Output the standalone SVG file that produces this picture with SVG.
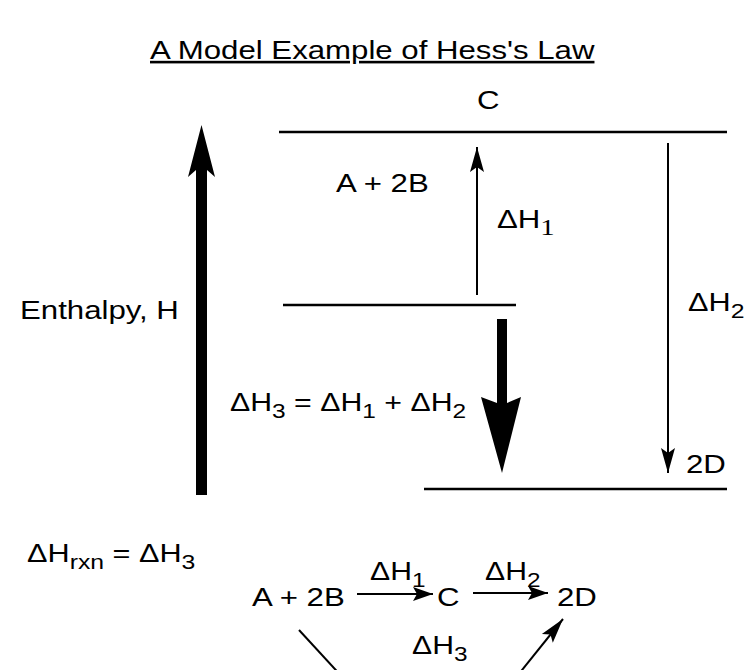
<svg xmlns="http://www.w3.org/2000/svg" width="746" height="670" viewBox="0 0 746 670">
<defs>
<style>
.t{font-family:"Liberation Sans",Arial,Helvetica,sans-serif;font-size:26px;fill:#000}
.sb{font-size:21px}
.sf{font-family:"Liberation Serif","Times New Roman",serif;font-size:24px}
.lvl{stroke:#000;stroke-width:2.5;fill:none}
.thin{stroke:#000;stroke-width:2;fill:none}
.solid{fill:#000;stroke:none}
</style>
<marker id="ah" viewBox="-26 -8 28 16" refX="0" refY="0" markerWidth="28" markerHeight="16" markerUnits="userSpaceOnUse" orient="auto">
<path d="M0,0 L-25,-7 L-20,0 L-25,7 Z" fill="#000"/>
</marker>
<marker id="ahs" viewBox="-22 -8 24 16" refX="0" refY="0" markerWidth="24" markerHeight="16" markerUnits="userSpaceOnUse" orient="auto">
<path d="M0,0 L-20,-7 L-16,0 L-20,7 Z" fill="#000"/>
</marker>
</defs>
<rect width="746" height="670" fill="#fff"/>

<g id="title">
<text class="t" transform="translate(150,59) scale(1.2,1)" text-decoration="underline">A Model Example of Hess's Law</text>
</g>

<g id="level-C">
<line class="lvl" x1="279" y1="132" x2="727" y2="132"/>
<text class="t" transform="translate(477,109) scale(1.2,1)">C</text>
</g>

<g id="level-AB">
<line class="lvl" x1="283" y1="305" x2="516" y2="305"/>
<text class="t" transform="translate(336,192) scale(1.2,1)">A + 2B</text>
</g>

<g id="level-2D">
<line class="lvl" x1="424" y1="489" x2="727" y2="489"/>
<text class="t" transform="translate(686,473) scale(1.2,1)">2D</text>
</g>

<g id="enthalpy-axis">
<path class="solid" d="M201.5,125 L215,177 L207,170 L207,495 L196,495 L196,170 L188,177 Z"/>
<text class="t" transform="translate(20,319) scale(1.2,1)">Enthalpy, H</text>
</g>

<g id="label-dH1">
<text class="t" transform="translate(497,228) scale(1.2,1)">ΔH<tspan class="sf" dy="7">1</tspan></text>
</g>

<g id="label-dH2">
<text class="t" transform="translate(688,311) scale(1.18,1)">ΔH<tspan class="sb" dy="7">2</tspan></text>
</g>

<g id="label-dH3">
<text class="t" transform="translate(230,411) scale(1.165,1)">ΔH<tspan class="sb" dy="7">3</tspan><tspan dy="-7"> = ΔH</tspan><tspan class="sb" dy="7">1</tspan><tspan dy="-7"> + ΔH</tspan><tspan class="sb" dy="7">2</tspan></text>
</g>

<g id="label-rxn">
<text class="t" transform="translate(27,562) scale(1.18,1)">ΔH<tspan class="sb" dy="7">rxn</tspan><tspan dy="-7"> = ΔH</tspan><tspan class="sb" dy="7">3</tspan></text>
</g>

<g id="eq-AB">
<text class="t" transform="translate(252,606) scale(1.2,1)">A + 2B</text>
</g>
<g id="eq-C">
<text class="t" transform="translate(437,606) scale(1.2,1)">C</text>
</g>
<g id="eq-2D">
<text class="t" transform="translate(557,606) scale(1.2,1)">2D</text>
</g>
<g id="eq-dH1">
<text class="t" transform="translate(370,580) scale(1.16,1)">ΔH<tspan class="sb" dy="7">1</tspan></text>
</g>
<g id="eq-dH2">
<text class="t" transform="translate(485,580) scale(1.16,1)">ΔH<tspan class="sb" dy="7">2</tspan></text>
</g>
<g id="eq-dH3">
<text class="t" transform="translate(412,654) scale(1.16,1)">ΔH<tspan class="sb" dy="7">3</tspan></text>
</g>

<g id="connectors">
<line class="thin" x1="477" y1="295" x2="477" y2="147" marker-end="url(#ah)"/>
<line class="thin" x1="668" y1="143" x2="668" y2="473" marker-end="url(#ah)"/>
<path class="solid" d="M497,319 L507,319 L507,403 L521,397 L502,473 L481,397 L497,403 Z"/>
<line class="thin" x1="357" y1="594" x2="433" y2="594" marker-end="url(#ahs)"/>
<line class="thin" x1="473" y1="593" x2="548" y2="593" marker-end="url(#ahs)"/>
<line class="thin" x1="299" y1="630" x2="345" y2="680"/>
<line class="thin" x1="514" y1="680" x2="563" y2="619" marker-end="url(#ah)"/>
</g>
</svg>
